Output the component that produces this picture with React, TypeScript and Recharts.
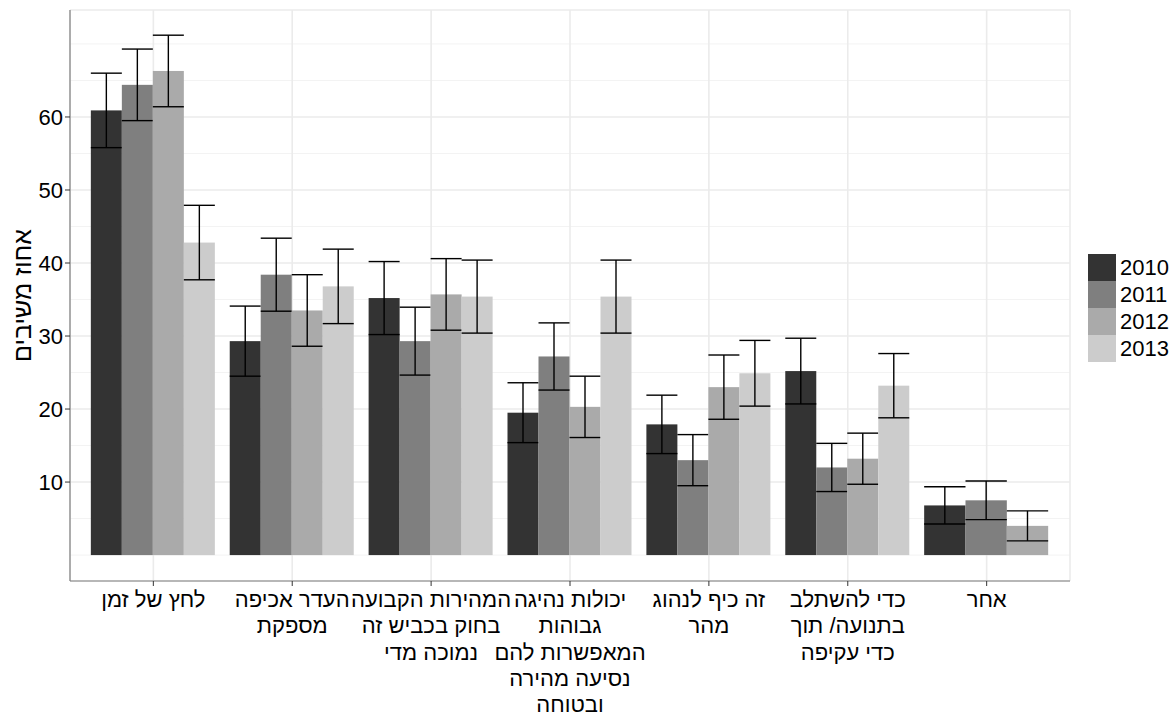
import React from "react";
import { BarChart, Bar, XAxis, YAxis, CartesianGrid, Legend } from "recharts";

const FONT = "'Liberation Sans', Arial, sans-serif";

const categories = [
  "לחץ של זמן",
  "העדר אכיפה\nמספקת",
  "המהירות הקבועה\nבחוק בכביש זה\nנמוכה מדי",
  "יכולות נהיגה\nגבוהות\nהמאפשרות להם\nנסיעה מהירה\nובטוחה",
  "זה כיף לנהוג\nמהר",
  "כדי להשתלב\nבתנועה/ תוך\nכדי עקיפה",
  "אחר",
];

const years = ["2010", "2011", "2012", "2013"];
const colors = ["#333333", "#7F7F7F", "#AAAAAA", "#CCCCCC"];

const v2010 = [60.9, 29.3, 35.2, 19.5, 17.9, 25.2, 6.8];
const v2011 = [64.4, 38.4, 29.3, 27.2, 13.0, 12.0, 7.5];
const v2012 = [66.3, 33.5, 35.7, 20.3, 23.0, 13.2, 4.0];
const v2013 = [42.8, 36.8, 35.4, 35.4, 24.9, 23.2, null];

const e2010 = [5.1, 4.8, 5.0, 4.1, 4.0, 4.5, 2.55];
const e2011 = [4.9, 5.0, 4.65, 4.6, 3.5, 3.3, 2.65];
const e2012 = [4.9, 4.9, 4.9, 4.2, 4.4, 3.5, 2.05];
const e2013 = [5.1, 5.1, 5.0, 5.0, 4.5, 4.4, null];

const yTicks = [10, 20, 30, 40, 50, 60];
const minorTicks = [0, 5, 15, 25, 35, 45, 55, 65, 70];

const data = categories.map((name, i) => ({
  name,
  v2010: v2010[i],
  v2011: v2011[i],
  v2012: v2012[i],
  v2013: v2013[i],
  e2010: e2010[i],
  e2011: e2011[i],
  e2012: e2012[i],
  e2013: e2013[i],
}));

// bar + error bar; groups with a missing year spread their bars over the whole slot (like position_dodge)
function BarWithError(props: any) {
  const { x, y, width, height, payload, fill, si } = props;
  const present = years.map((yr, i) => (payload["v" + yr] != null ? i : -1)).filter((i) => i >= 0);
  let bx = x;
  let bw = width;
  if (present.length < years.length) {
    const start = x - si * width;
    bw = (width * years.length) / present.length;
    bx = start + present.indexOf(si) * bw;
  }
  const val = payload["v" + years[si]];
  const err = payload["e" + years[si]];
  const k = height / val;
  const top = y - err * k;
  const bot = y + err * k;
  const cx = bx + bw / 2;
  return (
    <g>
      <rect x={bx} y={y} width={bw} height={height} fill={fill} />
      <line x1={cx} x2={cx} y1={top} y2={bot} stroke="#000" strokeWidth={1.4} />
      <line x1={bx} x2={bx + bw} y1={top} y2={top} stroke="#000" strokeWidth={1.4} />
      <line x1={bx} x2={bx + bw} y1={bot} y2={bot} stroke="#000" strokeWidth={1.4} />
    </g>
  );
}

function XTick(props: any) {
  const { x, y, payload } = props;
  const lines = String(payload.value).split("\n");
  return (
    <text x={x} y={y} textAnchor="middle" fontSize={22} fill="#000" fontFamily={FONT}>
      {lines.map((l, i) => (
        <tspan key={i} x={x} dy={i === 0 ? 19 : 26.3}>
          {l}
        </tspan>
      ))}
    </text>
  );
}

function YTitle(props: any) {
  const { viewBox } = props;
  const cx = viewBox.x + 31;
  const cy = viewBox.y + viewBox.height / 2;
  return (
    <text
      transform={`translate(${cx},${cy}) rotate(-90)`}
      textAnchor="middle"
      fontSize={25}
      fill="#000"
      fontFamily={FONT}
    >
      אחוז משיבים
    </text>
  );
}

function LegendBox(props: any) {
  const { payload } = props;
  return (
    <div style={{ fontFamily: FONT, fontSize: 22, color: "#000" }}>
      {payload.map((p: any) => (
        <div key={p.value} style={{ display: "flex", alignItems: "center", height: 27 }}>
          <div style={{ width: 28, height: 27, background: p.color }} />
          <span style={{ marginLeft: 4 }}>{p.value}</span>
        </div>
      ))}
    </div>
  );
}

export default function App() {
  return (
    <div style={{ position: "absolute", left: 0, top: 0, background: "#fff" }}>
      <BarChart
        width={1176}
        height={715}
        data={data}
        margin={{ top: 10, right: 106, left: 0, bottom: 0 }}
        barCategoryGap="5%"
        barGap={0}
      >
        <CartesianGrid horizontalValues={minorTicks} vertical={false} stroke="#F3F3F3" strokeWidth={1} />
        <CartesianGrid stroke="#EBEBEB" strokeWidth={1.6} />
        <XAxis
          dataKey="name"
          height={134}
          padding={{ left: 13.9, right: 13.9 }}
          interval={0}
          tick={<XTick />}
          tickSize={5}
          tickLine={{ stroke: "#333" }}
          axisLine={{ stroke: "#7F7F7F", strokeWidth: 1.2 }}
        />
        <XAxis
          xAxisId="top"
          dataKey="name"
          orientation="top"
          height={0}
          padding={{ left: 13.9, right: 13.9 }}
          tick={false}
          tickLine={false}
          axisLine={{ stroke: "#7F7F7F", strokeWidth: 1.2 }}
        />
        <YAxis
          type="number"
          width={70}
          domain={[-3.55, 74.65]}
          allowDataOverflow
          ticks={yTicks}
          tickSize={5}
          tickMargin={2}
          tick={{ fontSize: 22, fill: "#000", fontFamily: FONT }}
          tickLine={{ stroke: "#333" }}
          axisLine={{ stroke: "#7F7F7F", strokeWidth: 1.2 }}
          label={{ content: <YTitle /> }}
        />
        <YAxis
          yAxisId="right"
          orientation="right"
          type="number"
          width={0}
          domain={[-3.55, 74.65]}
          tick={false}
          tickLine={false}
          axisLine={{ stroke: "#7F7F7F", strokeWidth: 1.2 }}
        />
        {years.map((yr, i) => (
          <Bar
            key={yr}
            dataKey={"v" + yr}
            name={yr}
            fill={colors[i]}
            isAnimationActive={false}
            shape={(p: any) => <BarWithError {...p} si={i} />}
          />
        ))}
        <Legend
          layout="vertical"
          align="center"
          verticalAlign="middle"
          content={<LegendBox />}
          wrapperStyle={{ left: 1088, top: 254, width: 90 }}
        />
      </BarChart>
    </div>
  );
}
